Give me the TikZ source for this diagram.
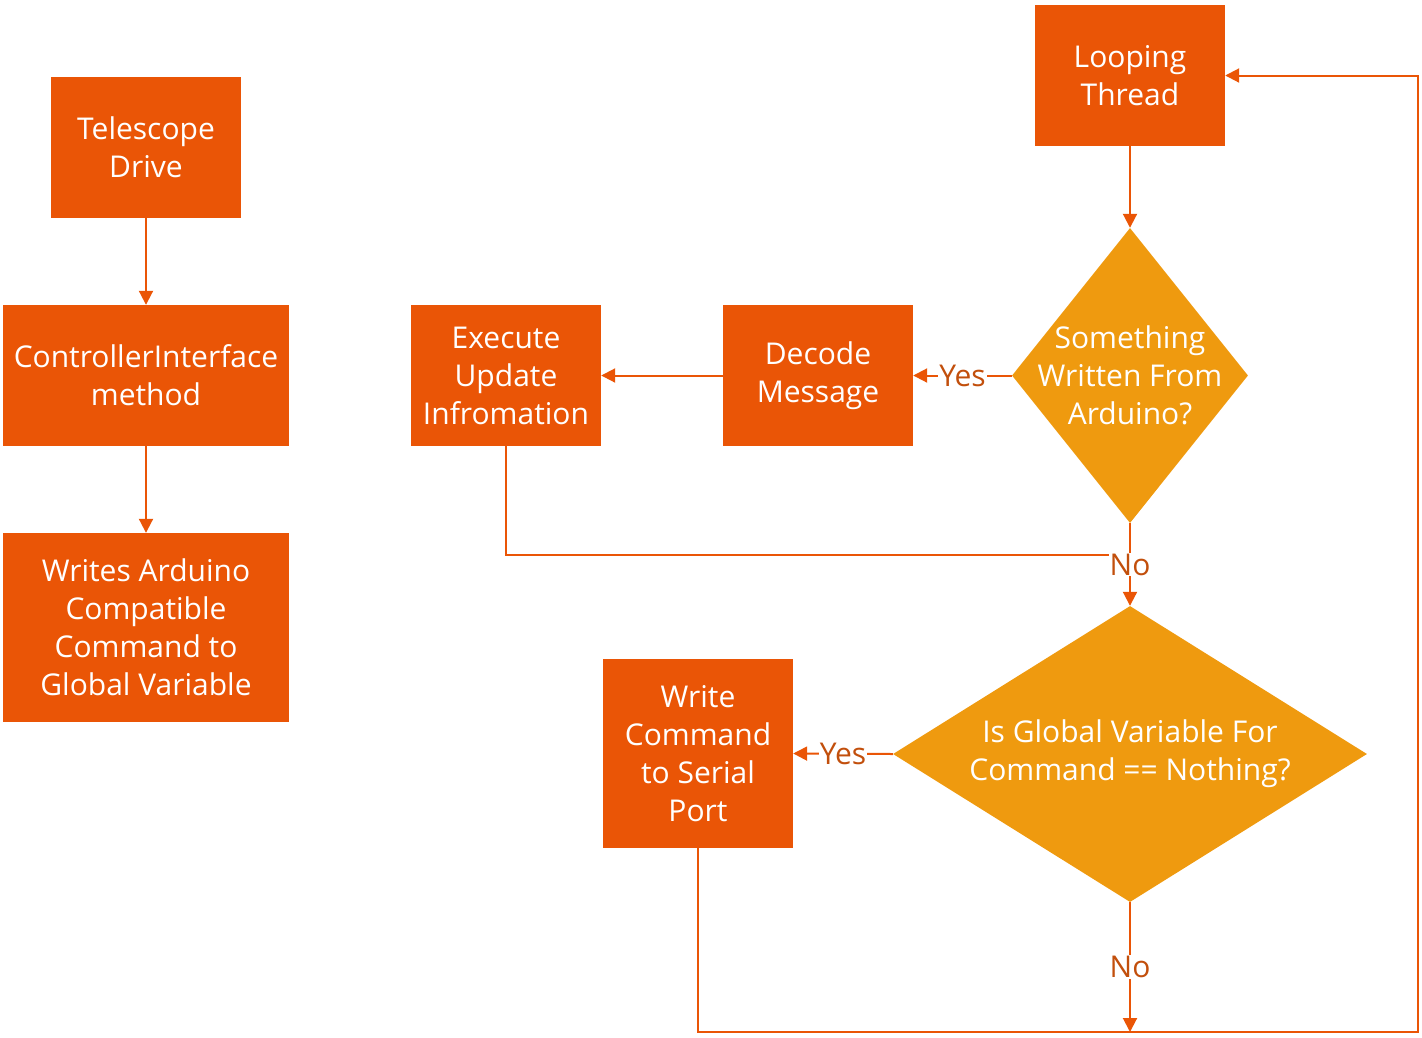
\documentclass[tikz,border=0pt]{standalone}
\usepackage{fontspec}
\setmainfont{Open Sans}
\usetikzlibrary{arrows.meta,shapes.geometric}
\definecolor{boxc}{HTML}{EA5506}
\definecolor{diac}{HTML}{EF9A0F}
\definecolor{labc}{HTML}{C24F0C}
\tikzset{
  txtfont/.style={font=\fontsize{30}{38}\selectfont},
  box/.style={fill=boxc, text=white, minimum width=190pt, minimum height=141pt, inner sep=0pt, align=center, txtfont},
  dia/.style={diamond, fill=diac, inner sep=0pt},
  diatxt/.style={text=white, align=center, inner sep=0pt, txtfont},
  lab/.style={fill=white, text=labc, inner sep=1pt, txtfont},
  conn/.style={draw=boxc, line width=2pt, -{Triangle[length=14pt,width=14pt]}},
  plain/.style={draw=boxc, line width=2pt}
}
\begin{document}
\begin{tikzpicture}[x=1pt,y=-1pt]
\useasboundingbox (0,0) rectangle (1422,1037);
% left column
\node[box] (td) at (146,147.5) {Telescope\\Drive};
\node[box, minimum width=286pt] (ci) at (146,375.5) {ControllerInterface\\method};
\node[box, minimum width=286pt, minimum height=189pt] (wa) at (146,627.5) {Writes Arduino\\Compatible\\Command to\\Global Variable};
% right part
\node[box] (lt) at (1130,75.5) {Looping\\Thread};
\node[dia, minimum width=236pt, minimum height=295pt] (d1) at (1130,375.5) {};
\node[diatxt] (d1t) at (d1) {Something\\Written From\\Arduino?};
\node[box] (dm) at (818,375.5) {Decode\\Message};
\node[box] (eu) at (506,375.5) {Execute\\Update\\Infromation};
\node[dia, minimum width=474pt, minimum height=296pt] (d2) at (1130,754) {};
\node[diatxt] (d2t) at (d2) {Is Global Variable For\\Command == Nothing?};
\node[box, minimum height=189pt] (wc) at (698,753.5) {Write\\Command\\to Serial\\Port};
\coordinate (j1) at (1130,555);
\coordinate (j2) at (1130,1032);
\coordinate (c1) at (1418,1032);
% connectors
\draw[conn] (td) -- (ci);
\draw[conn] (ci) -- (wa);
\draw[conn] (lt) -- (d1.north);
\draw[conn] (d1.west) -- node[lab]{Yes} (dm.east);
\draw[conn] (dm) -- (eu);
\draw[plain] (eu.south) |- (j1);
\draw[conn] (d1.south) -- node[lab]{No} (d2.north);
\draw[conn] (d2.west) -- node[lab]{Yes} (wc.east);
\draw[conn] (d2.south) -- node[lab, pos=0.5]{No} (j2);
\draw[conn] (wc.south) |- (c1) |- (lt.east);
\end{tikzpicture}
\end{document}
